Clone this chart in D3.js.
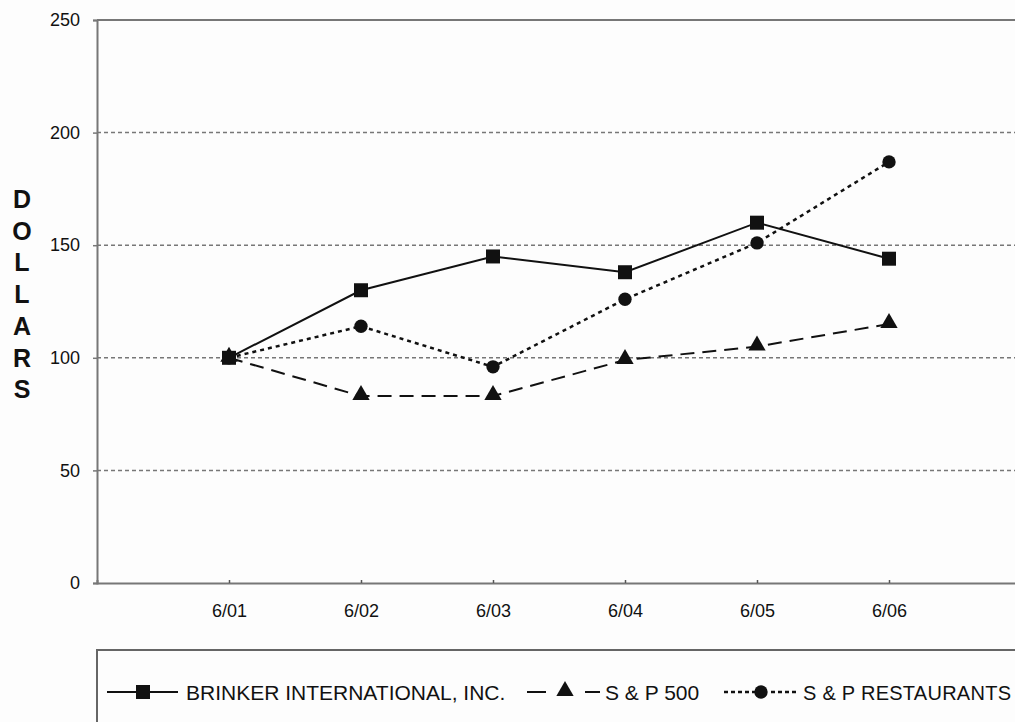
<html>
<script src='https://d3js.org/d3.v7.min.js'></script>
<style>
body {margin:0; background:#fff;}
text {font-family: "Liberation Sans", Arial, sans-serif; fill:#111;}
</style>
<body onload='init()'>
<svg width=1015 height=722></svg>
<script>
var periods = ["6/01", "6/02", "6/03", "6/04", "6/05", "6/06"];
var brinker = [100, 130, 145, 138, 160, 144];
var sp500 = [100, 83, 83, 99, 105, 115];
var restaurants = [100, 114, 96, 126, 151, 187];
var yTicks = [0, 50, 100, 150, 200, 250];
var seriesNames = ["BRINKER INTERNATIONAL, INC.", "S & P 500", "S & P RESTAURANTS"];

function init() {
  var svg = d3.select("svg");
  var left = 97, top = 20, bottom = 583, right = 1021;

  // index scale: one slot of padding before the first period
  var x = d3.scaleLinear([-1, periods.length], [left, right]);
  var y = d3.scaleLinear([0, 250], [bottom, top]);

  svg.append("rect").attr("width", 1015).attr("height", 722).attr("fill", "#fdfdfd");

  // gridlines
  svg.append("g").selectAll("line")
    .data(yTicks.filter(d => d > 0 && d < 250))
    .enter().append("line")
    .attr("x1", left).attr("x2", right)
    .attr("y1", d => y(d)).attr("y2", d => y(d))
    .attr("stroke", "#777").attr("stroke-width", 1.5)
    .attr("stroke-dasharray", "4,3");

  // top border
  svg.append("line").attr("x1", left).attr("x2", right)
    .attr("y1", y(250)).attr("y2", y(250))
    .attr("stroke", "#777").attr("stroke-width", 2);

  var yAxis = d3.axisLeft(y).tickValues(yTicks).tickSize(4).tickPadding(13);
  var gy = svg.append("g").attr("transform", "translate(" + left + ",0)").call(yAxis);
  gy.select(".domain").attr("stroke", "#777").attr("stroke-width", 2);
  gy.selectAll(".tick line").attr("stroke", "#777").attr("stroke-width", 1.5);
  gy.selectAll(".tick text").attr("font-size", 18).attr("fill", "#111")
    .attr("font-family", "Liberation Sans, Arial, sans-serif");

  var xAxis = d3.axisBottom(x)
    .tickValues(d3.range(periods.length))
    .tickFormat(i => periods[i])
    .tickSize(-3).tickPadding(21);
  var gx = svg.append("g").attr("transform", "translate(0," + bottom + ")").call(xAxis);
  gx.select(".domain").attr("stroke", "#777").attr("stroke-width", 2);
  gx.selectAll(".tick line").attr("stroke", "#555").attr("stroke-width", 1.5);
  gx.selectAll(".tick text").attr("font-size", 18).attr("fill", "#111")
    .attr("font-family", "Liberation Sans, Arial, sans-serif");

  // y label, stacked letters
  svg.append("g").selectAll("text")
    .data("DOLLARS".split(""))
    .enter().append("text")
    .attr("x", 22).attr("y", (d, i) => 208 + i * 31.7)
    .attr("text-anchor", "middle")
    .attr("font-size", 25).attr("font-weight", "bold")
    .text(d => d);

  var line = d3.line().x((d, i) => x(i)).y(d => y(d));
  var styles = [
    {data: brinker, dash: null, width: 2},
    {data: sp500, dash: "14,8", width: 2},
    {data: restaurants, dash: "4,4", width: 2.5}
  ];
  styles.forEach(s => {
    svg.append("path").datum(s.data).attr("d", line)
      .attr("fill", "none").attr("stroke", "#111")
      .attr("stroke-width", s.width)
      .attr("stroke-dasharray", s.dash);
  });

  var sq = d3.symbol().type(d3.symbolSquare).size(196);
  var tri = d3.symbol().type(d3.symbolTriangle).size(130);
  var circ = d3.symbol().type(d3.symbolCircle).size(140);

  svg.append("g").selectAll("path").data(sp500).enter().append("path")
    .attr("d", tri).attr("fill", "#111")
    .attr("transform", (d, i) => "translate(" + x(i) + "," + (y(d) - 1) + ")");
  svg.append("g").selectAll("path").data(restaurants).enter().append("path")
    .attr("d", circ).attr("fill", "#111")
    .attr("transform", (d, i) => "translate(" + x(i) + "," + y(d) + ")");
  svg.append("g").selectAll("path").data(brinker).enter().append("path")
    .attr("d", sq).attr("fill", "#111")
    .attr("transform", (d, i) => "translate(" + x(i) + "," + y(d) + ")");

  // legend
  var lg = svg.append("g");
  lg.append("rect").attr("x", 97).attr("y", 650).attr("width", 1000).attr("height", 120)
    .attr("fill", "none").attr("stroke", "#666").attr("stroke-width", 2);
  var ly = 692;
  // brinker
  lg.append("line").attr("x1", 107).attr("x2", 178).attr("y1", ly).attr("y2", ly)
    .attr("stroke", "#111").attr("stroke-width", 2);
  lg.append("path").attr("d", sq).attr("fill", "#111").attr("transform", "translate(143," + ly + ")");
  lg.append("text").attr("x", 186).attr("y", ly + 7.5).attr("font-size", 21).text(seriesNames[0]);
  // s&p 500
  lg.append("line").attr("x1", 527).attr("x2", 546).attr("y1", ly).attr("y2", ly)
    .attr("stroke", "#111").attr("stroke-width", 2);
  lg.append("line").attr("x1", 585).attr("x2", 600).attr("y1", ly).attr("y2", ly)
    .attr("stroke", "#111").attr("stroke-width", 2);
  lg.append("path").attr("d", tri).attr("fill", "#111").attr("transform", "translate(565," + (ly - 1) + ")");
  lg.append("text").attr("x", 605).attr("y", ly + 7.5).attr("font-size", 21).text(seriesNames[1]);
  // restaurants
  lg.append("line").attr("x1", 724).attr("x2", 755).attr("y1", ly).attr("y2", ly)
    .attr("stroke", "#111").attr("stroke-width", 2.5).attr("stroke-dasharray", "4,3");
  lg.append("line").attr("x1", 771).attr("x2", 798).attr("y1", ly).attr("y2", ly)
    .attr("stroke", "#111").attr("stroke-width", 2.5).attr("stroke-dasharray", "4,3");
  lg.append("path").attr("d", circ).attr("fill", "#111").attr("transform", "translate(761," + ly + ")");
  lg.append("text").attr("x", 803).attr("y", ly + 7.5).attr("font-size", 20)
    .attr("textLength", 208).text(seriesNames[2]);
}
</script>
</body>
</html>
